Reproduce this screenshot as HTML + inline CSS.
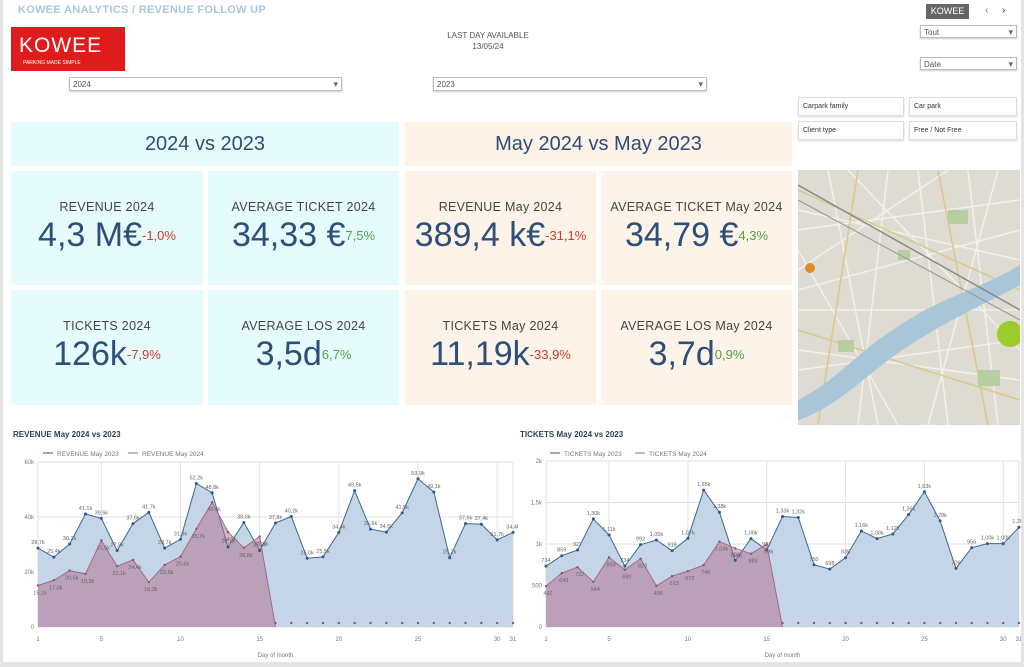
<!DOCTYPE html>
<html><head><meta charset="utf-8">
<style>
*{box-sizing:border-box;margin:0;padding:0}
body{width:1024px;height:667px;background:#e4e4e4;font-family:"Liberation Sans",sans-serif;position:relative;overflow:hidden}
#page{position:absolute;left:3px;top:0;width:1018px;height:662px;background:#fff}
.abs{position:absolute}
.dd{position:absolute;border:1px solid #bbb;background:#fff;font-size:8px;color:#555;padding:2px 3px;box-shadow:0 1px 2px rgba(0,0,0,.2)}
.dd::after{content:"▾";position:absolute;right:3px;top:1px;font-size:9px;color:#666}
.btn{position:absolute;border:1px solid #ddd;background:#fff;font-size:7px;color:#333;padding:5px 4px;box-shadow:0 1px 2px rgba(0,0,0,.15)}
.hdr{position:absolute;top:122px;height:44px;font-size:20px;color:#2e4d73;text-align:center;line-height:44px}
.card{position:absolute;text-align:center}
.card .l{font-size:12.5px;color:#444;margin-top:29px;letter-spacing:.3px}
.card .v{font-size:34px;color:#2d4f7a;margin-top:2px;white-space:nowrap}
.card .v span{font-size:13px;vertical-align:6px}
.cy{background:#e6fbfc}.pe{background:#fdf3e8}
.red{color:#cc3b2f}.grn{color:#4fa14a}
</style></head><body>
<div id="page">
<div class="abs" style="left:15px;top:4px;font-size:11px;color:#a9c8de;font-weight:bold;letter-spacing:.3px">KOWEE ANALYTICS / REVENUE FOLLOW UP</div>
<div class="abs" style="left:8px;top:27px;width:114px;height:44px;background:#e01b1b;color:#fff">
  <div style="font-size:21px;margin:7px 0 0 8px;letter-spacing:1px">KOWEE</div>
  <div style="font-size:5px;margin:2px 0 0 12px">PARKING MADE SIMPLE</div>
</div>
<div class="abs" style="left:923px;top:4px;width:43px;height:15px;background:#666;color:#fff;font-size:9px;text-align:center;line-height:15px">KOWEE</div>
<div class="abs" style="left:982px;top:5px;font-size:10px;color:#777">‹</div>
<div class="abs" style="left:999px;top:5px;font-size:10px;color:#333">›</div>
<div class="abs" style="left:420px;top:30px;width:130px;text-align:center;font-size:8px;color:#555;line-height:11px">LAST DAY AVAILABLE<br>13/05/24</div>
<div class="dd" style="left:66px;top:77px;width:273px;height:14px">2024</div>
<div class="dd" style="left:430px;top:77px;width:274px;height:14px">2023</div>
<div class="dd" style="left:917px;top:25px;width:97px;height:13px">Tout</div>
<div class="dd" style="left:917px;top:57px;width:97px;height:13px">Date</div>
<div class="btn" style="left:795px;top:97px;width:106px;height:19px">Carpark family</div>
<div class="btn" style="left:906px;top:97px;width:108px;height:19px">Car park</div>
<div class="btn" style="left:795px;top:121px;width:106px;height:19px">Client type</div>
<div class="btn" style="left:906px;top:121px;width:108px;height:19px">Free / Not Free</div>

<div class="hdr cy" style="left:8px;width:388px">2024 vs 2023</div>
<div class="hdr pe" style="left:402px;width:387px">May 2024 vs May 2023</div>

<div class="card cy" style="left:8px;top:171px;width:192px;height:114px"><div class="l">REVENUE 2024</div><div class="v">4,3 M€<span class="red">-1,0%</span></div></div>
<div class="card cy" style="left:205px;top:171px;width:191px;height:114px"><div class="l">AVERAGE TICKET 2024</div><div class="v">34,33 €<span class="grn">7,5%</span></div></div>
<div class="card pe" style="left:402px;top:171px;width:191px;height:114px"><div class="l">REVENUE May 2024</div><div class="v">389,4 k€<span class="red">-31,1%</span></div></div>
<div class="card pe" style="left:598px;top:171px;width:191px;height:114px"><div class="l">AVERAGE TICKET May 2024</div><div class="v">34,79 €<span class="grn">4,3%</span></div></div>
<div class="card cy" style="left:8px;top:290px;width:192px;height:115px"><div class="l">TICKETS 2024</div><div class="v">126k<span class="red">-7,9%</span></div></div>
<div class="card cy" style="left:205px;top:290px;width:191px;height:115px"><div class="l">AVERAGE LOS 2024</div><div class="v">3,5d<span class="grn">6,7%</span></div></div>
<div class="card pe" style="left:402px;top:290px;width:191px;height:115px"><div class="l">TICKETS May 2024</div><div class="v">11,19k<span class="red">-33,9%</span></div></div>
<div class="card pe" style="left:598px;top:290px;width:191px;height:115px"><div class="l">AVERAGE LOS May 2024</div><div class="v">3,7d<span class="grn">0,9%</span></div></div>

<svg class="abs" style="left:795px;top:170px" width="222" height="255">
<rect width="222" height="255" fill="#dedbd3"/>
<g stroke="#f3f0e8" stroke-width="1.5" fill="none">
<path d="M0 40 L222 90 M0 120 L222 60 M30 0 L80 255 M120 0 L150 255 M0 200 L222 170 M170 0 L200 255 M0 80 L100 255 M0 60 L222 30 M90 0 L60 255 M0 140 L222 140 M200 0 L130 255 M0 180 L222 210 M50 0 L222 180 M0 100 L150 0"/></g>
<g stroke="#d9c98a" stroke-width="1.5" fill="none"><path d="M0 20 L222 120 M60 0 L20 255 M0 160 L222 230 M140 0 L190 255"/></g>
<path d="M0 230 C40 210 60 180 110 150 C150 125 180 120 222 95 L222 115 C185 135 160 145 120 170 C70 200 45 235 0 250Z" fill="#a9c6d8"/>
<g fill="#b7cfa0"><rect x="150" y="40" width="20" height="14"/><rect x="40" y="170" width="16" height="12"/><rect x="180" y="200" width="22" height="16"/><rect x="100" y="80" width="12" height="10"/></g>
<path d="M0 15 L222 140" stroke="#888" stroke-width="1.5"/>
<path d="M0 30 L222 150" stroke="#999" stroke-width="1"/>
<circle cx="12" cy="98" r="5" fill="#e08a2a"/>
<circle cx="212" cy="164" r="13" fill="#9ccc2c"/>
</svg>

<svg id="chart1" class="abs" style="left:0;top:426px" width="515" height="236"></svg>
<svg id="chart2" class="abs" style="left:507px;top:426px" width="511" height="236"></svg>
</div>
<script>
const days = Array.from({length:31},(_,i)=>i+1);
const revenue2023 = [28.7,25.4,30.2,41.1,39.5,27.8,37.6,41.7,28.7,31.9,52.2,48.8,29.1,38.0,27.8,37.8,40.2,25.0,25.5,34.4,49.6,35.6,34.5,41.5,53.9,49.1,25.2,37.6,37.4,31.7,34.4];
const revenue2024 = [15.1,17.0,20.5,19.3,31.5,22.1,24.4,16.3,22.6,25.6,35.7,45.4,34.5,28.8,32.9,0,0,0,0,0,0,0,0,0,0,0,0,0,0,0,0];
const revTicks = [0,20,40,60];
const revTickLabels = ["0","20k","40k","60k"];
const tickets2023 = [734,859,927,1302,1109,734,992,1048,919,1069,1649,1383,802,1065,927,1331,1319,750,698,835,1157,1065,1121,1355,1629,1278,706,956,1004,1004,1202];
const tickets2024 = [492,649,722,544,839,690,823,496,613,673,746,1028,948,883,996,0,0,0,0,0,0,0,0,0,0,0,0,0,0,0,0];
const tkTicks = [0,500,1000,1500,2000];
const tkTickLabels = ["0","500","1k","1,5k","2k"];
const xTicks = [1,5,10,15,20,25,30,31];

const NS="http://www.w3.org/2000/svg";
function mk(svg,tag,attrs,name){const e=document.createElementNS(NS,tag);for(const k in attrs)e.setAttribute(k,attrs[k]);


svg.appendChild(e);return e;}
function draw(id,cfg){
 const svg=document.getElementById(id);
 const x=d=>cfg.x0+(d-1)*(cfg.x1-cfg.x0)/30;
 const y=v=>cfg.y0-v/cfg.max*(cfg.y0-cfg.y1);
 let t=mk(svg,'text',{x:cfg.tx,y:11,'font-size':8,fill:'#2e3f55','font-weight':'bold'},'chart-title');t.textContent=cfg.title;
 mk(svg,'line',{x1:cfg.lx,y1:27,x2:cfg.lx+10,y2:27,stroke:'#2f5a86'},'legend-marker-2023');
 t=mk(svg,'text',{x:cfg.lx+14,y:30,'font-size':6.5,fill:'#777'},'legend-entry-2023');t.textContent=cfg.l1;
 mk(svg,'line',{x1:cfg.lx+85,y1:27,x2:cfg.lx+95,y2:27,stroke:'#a5678a'},'legend-marker-2024');
 t=mk(svg,'text',{x:cfg.lx+99,y:30,'font-size':6.5,fill:'#777'},'legend-entry-2024');t.textContent=cfg.l2;
 cfg.ticks.forEach((v,i)=>{mk(svg,'line',{x1:cfg.x0,x2:cfg.x1,y1:y(v),y2:y(v),stroke:'#e2e2e2'},'y-gridline');
  const tt=mk(svg,'text',{x:cfg.x0-4,y:y(v)+2,'font-size':6,fill:'#777','text-anchor':'end'},'y-tick-label');tt.textContent=cfg.labels[i];});
 xTicks.forEach(d=>{mk(svg,'line',{x1:x(d),x2:x(d),y1:cfg.y1,y2:cfg.y0,stroke:'#e2e2e2'},'x-gridline');
  const tt=mk(svg,'text',{x:x(d),y:cfg.y0+14,'font-size':6,fill:'#777','text-anchor':'middle'},'x-tick-label');tt.textContent=d;});
 t=mk(svg,'text',{x:(cfg.x0+cfg.x1)/2,y:cfg.y0+30,'font-size':6,fill:'#777','text-anchor':'middle'},'x-axis-title');t.textContent='Day of month';
 function area(vals,fill,stroke,name,last){
  const n=last||vals.length;let p='M'+x(1)+' '+y(0);
  for(let i=0;i<n;i++)p+=' L'+x(days[i])+' '+y(vals[i]);
  p+=' L'+x(days[n-1])+' '+y(0)+'Z';
  mk(svg,'path',{d:p,fill:fill,stroke:'none'},name+'-area');
  let l='';for(let i=0;i<n;i++)l+=(i?' L':'M')+x(days[i])+' '+y(vals[i]);
  mk(svg,'path',{d:l,fill:'none',stroke:stroke,'stroke-width':1},name+'-line');
 }
 area(cfg.a,'#c4d5e7','#3f6690','series-2023');
 let lastNZ=cfg.b.length;for(let i=cfg.b.length-1;i>0;i--){if(cfg.b[i-1]!==0){lastNZ=i+1;break;}}
 area(cfg.b,'rgba(176,110,140,0.5)','#a5678a','series-2024',lastNZ);
 cfg.a.forEach((v,i)=>{mk(svg,'circle',{cx:x(days[i]),cy:y(v),r:1.5,fill:'#2f5a86'},'point-2023');
  const tt=mk(svg,'text',{x:x(days[i]),y:y(v)-4,'font-size':5.5,fill:'#666','text-anchor':'middle'},'value-label');tt.textContent=cfg.fmt(v);});
 cfg.b.forEach((v,i)=>{mk(svg,'circle',{cx:x(days[i]),cy:y(v)-(v?0:4),r:1.2,fill:'#8a5577'},'point-2024');
  if(v){const tt=mk(svg,'text',{x:x(days[i])+2,y:y(v)+9,'font-size':5.5,fill:'#666','text-anchor':'middle'},'value-label');tt.textContent=cfg.fmt(v);}});
}
draw('chart1',{title:'REVENUE May 2024 vs 2023',tx:10,lx:40,l1:'REVENUE May 2023',l2:'REVENUE May 2024',x0:35,x1:510,y0:201,y1:36,max:60,ticks:revTicks,labels:revTickLabels,a:revenue2023,b:revenue2024,fmt:v=>v.toFixed(1).replace('.',',')+'k'});
draw('chart2',{title:'TICKETS May 2024 vs 2023',tx:10,lx:40,l1:'TICKETS May 2023',l2:'TICKETS May 2024',x0:36,x1:509,y0:201,y1:35,max:2000,ticks:tkTicks,labels:tkTickLabels,a:tickets2023,b:tickets2024,fmt:v=>v>=1000?(v/1000).toFixed(2).replace('.',',')+'k':String(v)});
</script>
</body></html>
